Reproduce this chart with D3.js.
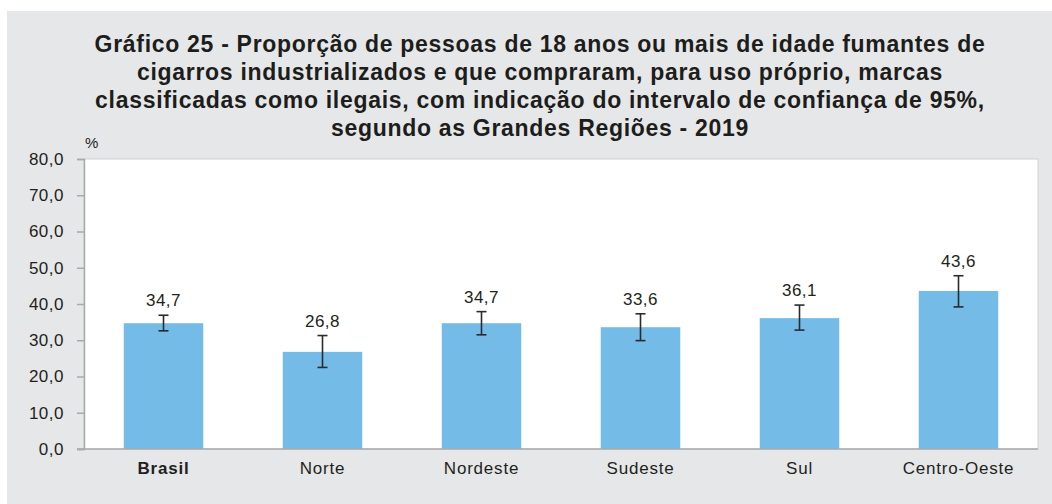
<!DOCTYPE html>
<html>
<head>
<meta charset="utf-8">
<script src="https://cdn.jsdelivr.net/npm/d3@7"></script>
<style>
  body { margin: 0; background: #fff; }
  svg { display: block; font-family: "Liberation Sans", Arial, sans-serif; }
</style>
</head>
<body>
<svg width="1052" height="504"></svg>
<script>
var regions = ["Brasil", "Norte", "Nordeste", "Sudeste", "Sul", "Centro-Oeste"];
var values = [34.7, 26.8, 34.7, 33.6, 36.1, 43.6];
var lower = [32.6, 22.5, 31.5, 29.9, 32.8, 39.2];
var upper = [36.9, 31.3, 37.9, 37.3, 39.7, 47.8];
var yTicks = [0, 10, 20, 30, 40, 50, 60, 70, 80];
var titleLines = [
    "Gráfico 25 - Proporção de pessoas de 18 anos ou mais de idade fumantes de",
    "cigarros industrializados e que compraram, para uso próprio, marcas",
    "classificadas como ilegais, com indicação do intervalo de confiança de 95%,",
    "segundo as Grandes Regiões - 2019"
];

var svg = d3.select("svg");
var ptBR = d3.formatLocale({ decimal: ",", thousands: ".", grouping: [3], currency: ["R$", ""] });
var fmt = ptBR.format(".1f");

var data = regions.map((r, i) => ({ name: r, value: values[i], lo: lower[i], hi: upper[i] }));

// background panel
svg.append("rect")
    .attr("x", 7).attr("y", 11)
    .attr("width", 1052 - 7).attr("height", 504 - 11)
    .attr("fill", "#e6e7e8");

// title
svg.append("g").selectAll("text")
    .data(titleLines).enter()
    .append("text")
    .attr("x", 540)
    .attr("y", (d, i) => 52 + i * 28)
    .attr("text-anchor", "middle")
    .attr("font-size", 23)
    .attr("font-weight", "bold")
    .attr("letter-spacing", 0.7)
    .attr("fill", "#1d1d1b")
    .text(d => d);

var plotLeft = 84, plotRight = 1038, plotTop = 159, plotBottom = 449;

var x = d3.scaleBand()
    .domain(regions)
    .range([plotLeft, plotRight])
    .paddingInner(0.5)
    .paddingOuter(0.25);

var y = d3.scaleLinear()
    .domain([0, 80])
    .range([plotBottom, plotTop]);

// plot area
svg.append("rect")
    .attr("x", plotLeft).attr("y", plotTop)
    .attr("width", plotRight - plotLeft).attr("height", plotBottom - plotTop)
    .attr("fill", "#fff")
    .attr("stroke", "#cfd0d1");

// bars
svg.append("g").selectAll("rect")
    .data(data).enter()
    .append("rect")
    .attr("x", d => x(d.name))
    .attr("y", d => y(d.value))
    .attr("width", x.bandwidth())
    .attr("height", d => y(0) - y(d.value))
    .attr("fill", "#74bce7");

// y axis
var yAxis = svg.append("g")
    .attr("transform", "translate(" + plotLeft + ",0)")
    .call(d3.axisLeft(y).tickValues(yTicks).tickSize(7).tickPadding(13).tickFormat(fmt));
yAxis.select(".domain").attr("stroke", "#a9aaab").attr("stroke-width", 1.5);
yAxis.selectAll(".tick line").attr("stroke", "#a9aaab").attr("stroke-width", 1.5);
yAxis.selectAll(".tick text")
    .attr("font-size", 17)
    .attr("letter-spacing", 0.5)
    .attr("fill", "#231f20")
    .attr("font-family", "Liberation Sans, Arial, sans-serif");

// x axis
var xAxis = svg.append("g")
    .attr("transform", "translate(0," + plotBottom + ")")
    .call(d3.axisBottom(x).tickSize(0).tickPadding(13));
xAxis.select(".domain").attr("stroke", "#a9aaab").attr("stroke-width", 1.5)
    .attr("d", "M" + (plotLeft - 7) + ",0H" + plotRight);
xAxis.selectAll(".tick text")
    .attr("font-size", 17)
    .attr("letter-spacing", 0.8)
    .attr("fill", "#231f20")
    .attr("font-family", "Liberation Sans, Arial, sans-serif")
    .attr("font-weight", d => d === "Brasil" ? "bold" : "normal");

// percent label
svg.append("text")
    .attr("x", 85).attr("y", 148)
    .attr("font-size", 15)
    .attr("fill", "#231f20")
    .text("%");

// error bars
var err = svg.append("g").attr("stroke", "#2b2b2b").attr("stroke-width", 1.6);
data.forEach(d => {
    var cx = x(d.name) + x.bandwidth() / 2;
    err.append("line").attr("x1", cx).attr("x2", cx).attr("y1", y(d.hi)).attr("y2", y(d.lo));
    err.append("line").attr("x1", cx - 5).attr("x2", cx + 5).attr("y1", y(d.hi)).attr("y2", y(d.hi));
    err.append("line").attr("x1", cx - 5).attr("x2", cx + 5).attr("y1", y(d.lo)).attr("y2", y(d.lo));
});

// value labels
svg.append("g").selectAll("text")
    .data(data).enter()
    .append("text")
    .attr("x", d => x(d.name) + x.bandwidth() / 2)
    .attr("y", d => y(d.hi) - 9)
    .attr("text-anchor", "middle")
    .attr("font-size", 17)
    .attr("letter-spacing", 0.5)
    .attr("fill", "#231f20")
    .text(d => fmt(d.value));
</script>
</body>
</html>
